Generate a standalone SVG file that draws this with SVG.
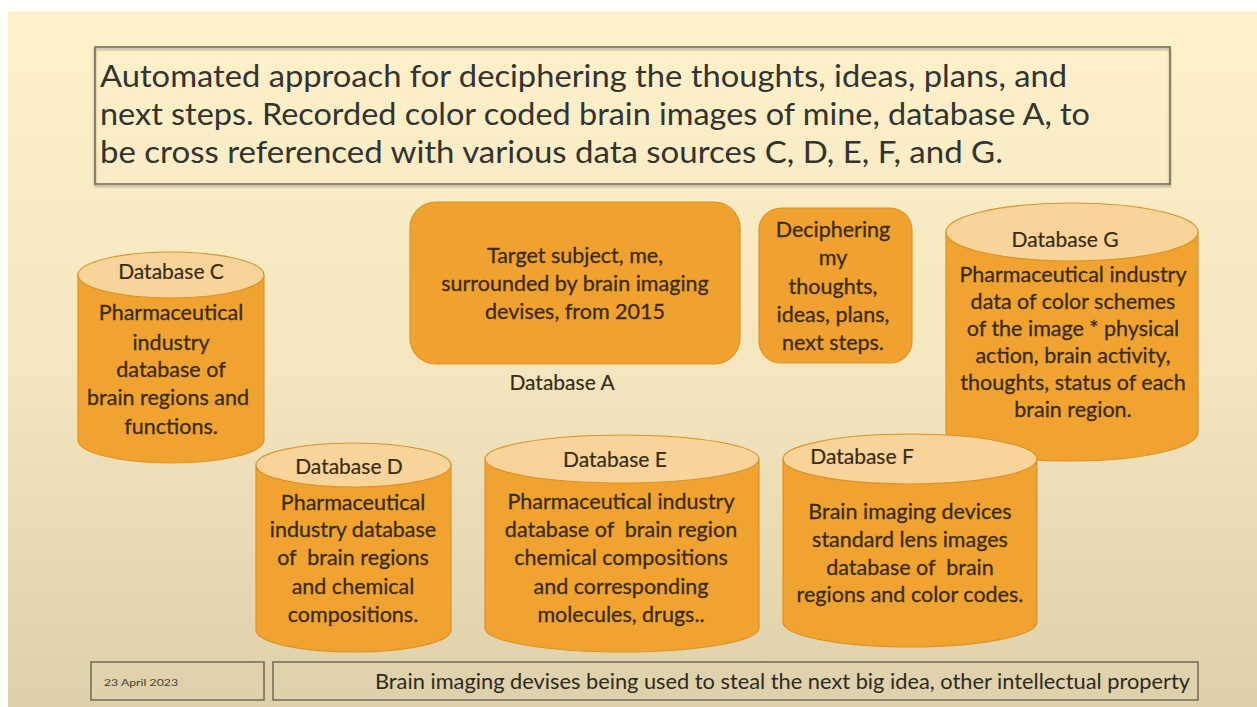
<svg xmlns="http://www.w3.org/2000/svg" width="1257" height="707" viewBox="0 0 1257 707">
<defs>
<linearGradient id="bg" x1="0" y1="0" x2="0" y2="1">
<stop offset="0" stop-color="#fff1ca"/>
<stop offset="0.5" stop-color="#f4e7bf"/>
<stop offset="1" stop-color="#ddd0aa"/>
</linearGradient>
<filter id="sh" x="-5%" y="-5%" width="110%" height="115%">
<feDropShadow dx="0" dy="2" stdDeviation="1.2" flood-color="#6b6450" flood-opacity="0.6"/>
</filter>
</defs>
<style>
.frame{fill:none;stroke:#77705a;stroke-width:1.6}
.body{fill:#f0a331;stroke:#dc9326;stroke-width:1.2}
.cap{fill:#f8d39a;stroke:#dc9326;stroke-width:1.2}
.box{fill:#f0a12f;stroke:#dc9326;stroke-width:1.2}
text{font-family:Lato,"Open Sans","Liberation Sans",sans-serif;fill:#3a2c14}
.t{font-size:21.5px;text-anchor:middle;stroke:#3a2c14;stroke-width:0.3}
.h{font-size:21px;text-anchor:middle;stroke:#3a2c14;stroke-width:0.2}
.title{font-size:31px;fill:#333330}
</style>
<rect x="0" y="0" width="1257" height="707" fill="#ffffff"/>
<rect x="8" y="11" width="1249" height="696" fill="url(#bg)"/>

<g id="title">
<rect x="95" y="47" width="1075" height="137" class="frame" filter="url(#sh)"/>
<text class="title" x="100" y="87" textLength="967" lengthAdjust="spacingAndGlyphs">Automated approach for deciphering the thoughts, ideas, plans, and</text>
<text class="title" x="100" y="125" textLength="990" lengthAdjust="spacingAndGlyphs">next steps. Recorded color coded brain images of mine, database A, to</text>
<text class="title" x="100" y="163" textLength="903" lengthAdjust="spacingAndGlyphs">be cross referenced with various data sources C, D, E, F, and G.</text>
</g>

<g id="connectors"></g>

<g id="dbC">
<path class="body" d="M78,275 L78,440 A93,23 0 0 0 264,440 L264,275 Z"/>
<ellipse class="cap" cx="171" cy="275" rx="93" ry="23"/>
<text class="h" x="171" y="279">Database C</text>
<text class="t" x="171" y="320">Pharmaceutical</text>
<text class="t" x="171" y="350">industry</text>
<text class="t" x="171" y="377">database of</text>
<text class="t" x="168" y="405">brain regions and</text>
<text class="t" x="171" y="434">functions.</text>
</g>

<g id="dbA">
<rect class="box" x="410" y="202" width="330" height="162" rx="26"/>
<text class="t" x="575" y="263">Target subject, me,</text>
<text class="t" x="575" y="291">surrounded by brain imaging</text>
<text class="t" x="575" y="319">devises, from 2015</text>
<text class="h" x="562" y="390">Database A</text>
</g>

<g id="decipher">
<rect class="box" x="759" y="208" width="153" height="155" rx="22"/>
<text class="t" x="833" y="237">Deciphering</text>
<text class="t" x="833" y="265">my</text>
<text class="t" x="833" y="294">thoughts,</text>
<text class="t" x="833" y="322">ideas, plans,</text>
<text class="t" x="833" y="350">next steps.</text>
</g>

<g id="dbG">
<path class="body" d="M946,232 L946,432 A126,29 0 0 0 1198,432 L1198,232 Z"/>
<ellipse class="cap" cx="1072" cy="232" rx="126" ry="29"/>
<text class="h" x="1065" y="247">Database G</text>
<text class="t" x="1073" y="282">Pharmaceutical industry</text>
<text class="t" x="1073" y="309">data of color schemes</text>
<text class="t" x="1073" y="336">of the image * physical</text>
<text class="t" x="1073" y="363">action, brain activity,</text>
<text class="t" x="1073" y="390">thoughts, status of each</text>
<text class="t" x="1073" y="417">brain region.</text>
</g>

<g id="dbD">
<path class="body" d="M256,465 L256,630 A97.5,22 0 0 0 451,630 L451,465 Z"/>
<ellipse class="cap" cx="353.5" cy="465" rx="97.5" ry="22"/>
<text class="h" x="349" y="474">Database D</text>
<text class="t" x="353" y="510">Pharmaceutical</text>
<text class="t" x="353" y="537">industry database</text>
<text class="t" x="353" y="565" xml:space="preserve">of  brain regions</text>
<text class="t" x="353" y="594">and chemical</text>
<text class="t" x="353" y="622">compositions.</text>
</g>

<g id="dbE">
<path class="body" d="M485,459 L485,628 A137,24 0 0 0 759,628 L759,459 Z"/>
<ellipse class="cap" cx="622" cy="459" rx="137" ry="24"/>
<text class="h" x="615" y="467">Database E</text>
<text class="t" x="621" y="509">Pharmaceutical industry</text>
<text class="t" x="621" y="537" xml:space="preserve">database of  brain region</text>
<text class="t" x="621" y="565">chemical compositions</text>
<text class="t" x="621" y="594">and corresponding</text>
<text class="t" x="621" y="622">molecules, drugs..</text>
</g>

<g id="dbF">
<path class="body" d="M783,459 L783,622 A127,25 0 0 0 1037,622 L1037,459 Z"/>
<ellipse class="cap" cx="910" cy="459" rx="127" ry="25"/>
<text class="h" x="862" y="464">Database F</text>
<text class="t" x="910" y="519">Brain imaging devices</text>
<text class="t" x="910" y="547">standard lens images</text>
<text class="t" x="910" y="575" xml:space="preserve">database of  brain</text>
<text class="t" x="910" y="602">regions and color codes.</text>
</g>

<g id="footer">
<rect x="91" y="662" width="173" height="38" class="frame"/>
<text x="104" y="686" textLength="74" lengthAdjust="spacingAndGlyphs" style="font-size:10px;fill:#4a4030">23 April 2023</text>
<rect x="273" y="662" width="925" height="38" class="frame"/>
<text x="1190" y="689" text-anchor="end" textLength="815" lengthAdjust="spacingAndGlyphs" style="font-size:21px;fill:#2e2a20">Brain imaging devises being used to steal the next big idea, other intellectual property</text>
</g>
</svg>
